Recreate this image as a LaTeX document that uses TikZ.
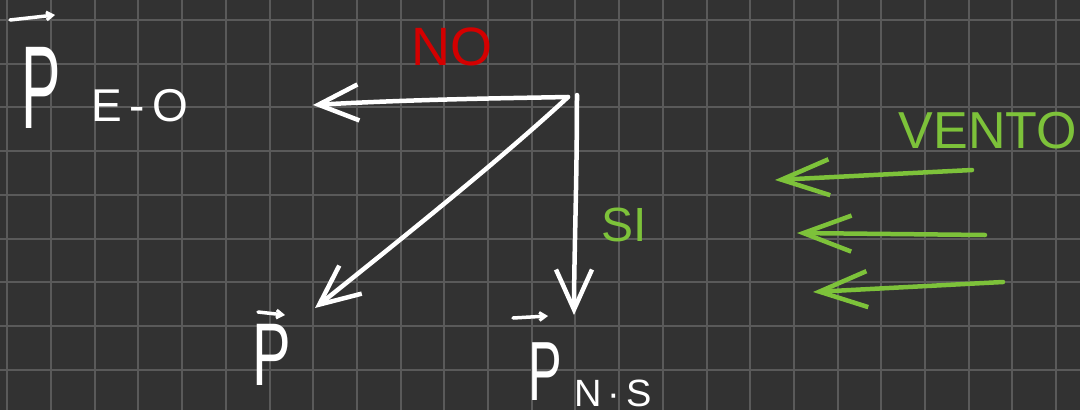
\documentclass[tikz,border=0pt]{standalone}
\usepackage{fontspec}
\setmainfont{Liberation Sans}
\usetikzlibrary{arrows.meta}
\definecolor{bg}{HTML}{323232}
\definecolor{gridc}{HTML}{5A5A5A}
\definecolor{ink}{HTML}{FFFFFF}
\definecolor{redink}{HTML}{D40000}
\definecolor{greenink}{HTML}{7DC23A}
\tikzset{
  stroke/.style={draw=ink, line width=4.5pt, line cap=round, line join=round},
  vec/.style={stroke, -{Straight Barb[length=40pt,width=36pt,line width=4.5pt]}},
  gvec/.style={draw=greenink, line width=4.5pt, line cap=round, line join=round, -{Straight Barb[length=48pt,width=36pt,line width=4.5pt]}},
  small/.style={stroke, line width=3.5pt, -{Straight Barb[length=6pt,width=8pt,line width=3pt]}},
  lbl/.style={inner sep=0pt, anchor=center}
}
\begin{document}
\begin{tikzpicture}[x=1pt,y=-1pt]
\useasboundingbox (0,0) rectangle (1080,410);
\fill[bg] (0,0) rectangle (1080,410);
\foreach \k in {0,...,24} \draw[gridc, line width=2pt] ({7.3+43.7*\k},0) -- ({7.3+43.7*\k},410);
\foreach \k in {0,...,8} \draw[gridc, line width=2pt] (0,{20+43.7*\k}) -- (1080,{20+43.7*\k});

% labels
\node[lbl, text=ink, font=\fontsize{118}{118}\selectfont] (pe) at (41,88) {\scalebox{0.5}[1]{P}};
\node[lbl, text=ink, font=\fontsize{46}{46}\selectfont] (eo) at (140,106) {E\,-\,O};
\node[lbl, text=redink, font=\fontsize{54}{54}\selectfont] (no) at (452,47) {NO};
\node[lbl, text=greenink, font=\fontsize{48}{48}\selectfont] (si) at (624,225) {SI};
\node[lbl, text=greenink, font=\fontsize{52}{52}\selectfont] (vento) at (988,131) {VENTO};
\node[lbl, text=ink, font=\fontsize{89}{89}\selectfont] (p) at (272,355) {\scalebox{0.65}[1]{P}};
\node[lbl, text=ink, font=\fontsize{84}{84}\selectfont] (pns) at (545,372) {\scalebox{0.6}[1]{P}};
\node[lbl, text=ink, font=\fontsize{38}{38}\selectfont, anchor=west] (ns) at (574,393) {N\,·\,S};

% vector arrows over P
\coordinate (pea) at (10,20); \coordinate (peb) at (55,15);
\draw[small] (pea) -- (peb);
\coordinate (pa) at (258,312); \coordinate (pb) at (285,315);
\draw[small] (pa) -- (pb);
\coordinate (pnsa) at (513,318); \coordinate (pnsb) at (548,316);
\draw[small] (pnsa) -- (pnsb);

% main vectors
\coordinate (o) at (568,97);
\coordinate (ov) at (577,95);
\coordinate (eoend) at (313,105);
\coordinate (nsend) at (574,315);
\coordinate (pend) at (315,308);
\draw[vec] (o) .. controls (520,98) and (420,99) .. (eoend);
\draw[vec] (ov) .. controls (577,180) and (574,260) .. (nsend);
\draw[vec] (o) .. controls (500,160) and (400,240) .. (pend);

% wind arrows
\coordinate (w1a) at (972,170); \coordinate (w1b) at (775,180);
\coordinate (w2a) at (985,235); \coordinate (w2b) at (797,233);
\coordinate (w3a) at (1003,282); \coordinate (w3b) at (813,292);
\draw[gvec] (w1a) -- (w1b);
\draw[gvec] (w2a) -- (w2b);
\draw[gvec] (w3a) -- (w3b);
\end{tikzpicture}
\end{document}
